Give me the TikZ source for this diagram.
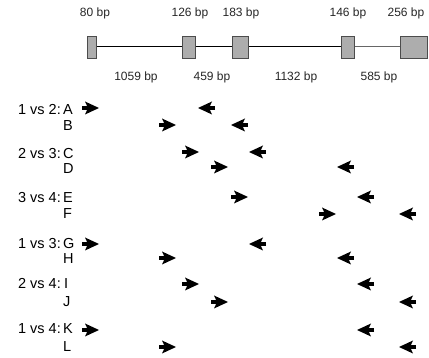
\documentclass[tikz,border=0pt]{standalone}
\usepackage{fontspec}
\setmainfont{Liberation Sans}
\begin{document}
\begin{tikzpicture}[x=1pt,y=-1pt,
  exon/.style={draw=black!70,fill=black!32,line width=0.9pt},
  intron/.style={line width=1pt},
  bp/.style={font=\fontsize{12}{13}\selectfont,inner sep=0pt,text=black!85},
  cmp/.style={font=\fontsize{14.5}{15}\selectfont,inner sep=0pt,anchor=east},
  lett/.style={font=\fontsize{14.5}{15}\selectfont,inner sep=0pt,anchor=west},
  fwd/.pic={\draw[line width=4.5pt] (-8,0) -- (-2,0);
            \fill (9,0) -- (-5,-6.5) -- (-2,0) -- (-5,6.5) -- cycle;},
  rev/.pic={\draw[line width=4.5pt] (8,0) -- (2,0);
            \fill (-9,0) -- (5,-6.5) -- (2,0) -- (5,6.5) -- cycle;}
]
\useasboundingbox (0,0) rectangle (429,358);
% gene structure
\draw[intron] (96,47) -- (341,47);
\draw[intron,black!60] (354,47) -- (400,47);
\filldraw[exon] (87,36) rectangle (96,58) coordinate (e1);
\filldraw[exon] (182,36) rectangle (195,58) coordinate (e2);
\filldraw[exon] (232,36) rectangle (248,58) coordinate (e3);
\filldraw[exon] (341,36) rectangle (354,58) coordinate (e4);
\filldraw[exon] (400,36) rectangle (427,58) coordinate (e5);
\node[bp] (t1) at (95,13) {80 bp};
\node[bp] (t2) at (190,13) {126 bp};
\node[bp] (t3) at (241,13) {183 bp};
\node[bp] (t4) at (348,13) {146 bp};
\node[bp] (t5) at (406,13) {256 bp};
\node[bp] (i1) at (136,77) {1059 bp};
\node[bp] (i2) at (212,77) {459 bp};
\node[bp] (i3) at (296,77) {1132 bp};
\node[bp] (i4) at (379,77) {585 bp};
% comparison labels
\node[cmp] (c12) at (61,110) {1 vs 2:};
\node[cmp] (c23) at (61,154) {2 vs 3:};
\node[cmp] (c34) at (61,198) {3 vs 4:};
\node[cmp] (c13) at (61,244) {1 vs 3:};
\node[cmp] (c24) at (61,284) {2 vs 4:};
\node[cmp] (c14) at (61,329) {1 vs 4:};
\node[lett] (lA) at (63,110) {A};
\node[lett] (lB) at (63,126) {B};
\node[lett] (lC) at (63,154) {C};
\node[lett] (lD) at (63,169) {D};
\node[lett] (lE) at (63,198) {E};
\node[lett] (lF) at (63,214) {F};
\node[lett] (lG) at (63,244) {G};
\node[lett] (lH) at (63,259) {H};
\node[lett] (lI) at (64,284) {I};
\node[lett] (lJ) at (63,302) {J};
\node[lett] (lK) at (63,329) {K};
\node[lett] (lL) at (63,347) {L};
% primers
\pic at (90,108) {fwd};  \pic at (207,108) {rev};
\pic at (167,125) {fwd}; \pic at (240,125) {rev};
\pic at (190,152) {fwd}; \pic at (258,152) {rev};
\pic at (219,167) {fwd}; \pic at (346,167) {rev};
\pic at (239,197) {fwd}; \pic at (366,197) {rev};
\pic at (327,214) {fwd}; \pic at (408,214) {rev};
\pic at (90,244) {fwd};  \pic at (258,244) {rev};
\pic at (167,258) {fwd}; \pic at (346,258) {rev};
\pic at (190,284) {fwd}; \pic at (366,284) {rev};
\pic at (219,302) {fwd}; \pic at (408,302) {rev};
\pic at (90,330) {fwd};  \pic at (366,330) {rev};
\pic at (167,347) {fwd}; \pic at (408,347) {rev};
\end{tikzpicture}
\end{document}
